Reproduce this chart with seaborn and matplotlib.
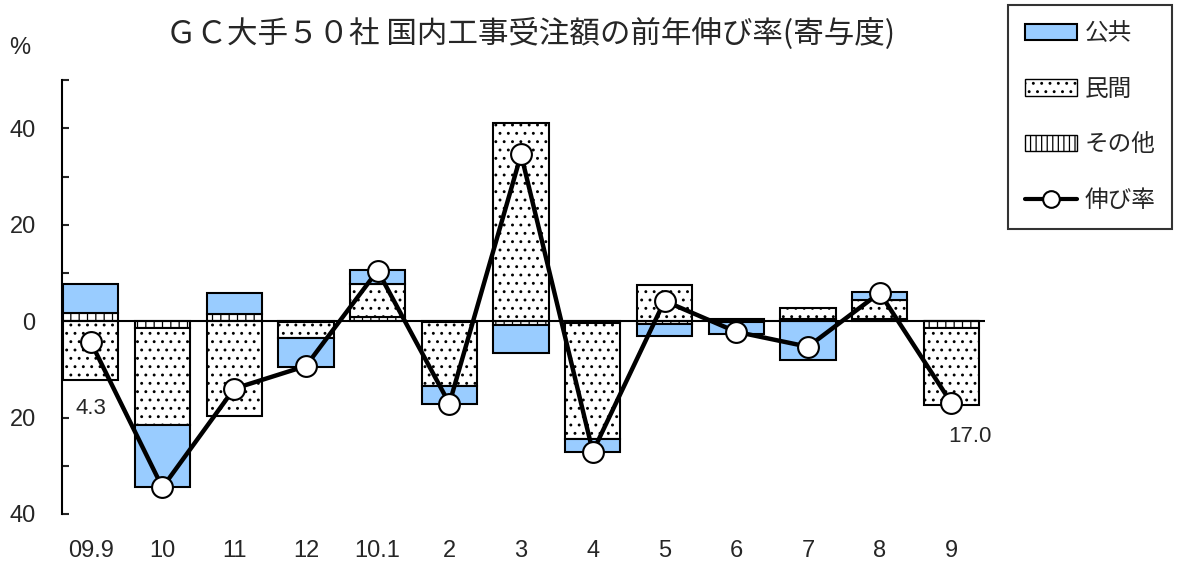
import matplotlib
matplotlib.use('Agg')
import matplotlib.pyplot as plt
from matplotlib.patches import Patch
from matplotlib.lines import Line2D
from matplotlib.ticker import MultipleLocator, FuncFormatter
import seaborn as sns
import pandas as pd
import numpy as np

# ── data (寄与度, %) ─────────────────────────────────────
months  = ['09.9', '10', '11', '12', '10.1', '2', '3', '4', '5', '6', '7', '8', '9']
public  = [6.1, -12.9, 4.5, -6.2, 2.8, -3.7, -5.8, -2.8, -2.6, -2.6, -8.0, 1.6, 0.1]
private = [-12.1, -20.1, -19.7, -3.3, 7.0, -13.2, 41.2, -24.0, 7.5, -0.1, 2.3, 4.0, -16.0]
other   = [1.7, -1.5, 1.4, -0.1, 0.8, -0.2, -0.7, -0.4, -0.5, 0.4, 0.5, 0.5, -1.4]
growth  = [-4.3, -34.5, -14.0, -9.3, 10.5, -17.1, 34.6, -27.1, 4.2, -2.2, -5.3, 5.9, -17.0]
note_idx  = [0, 12]
note_text = ['4.3', '17.0']

BLUE = '#99ccff'
JP = ['Noto Sans CJK JP', 'DejaVu Sans']
EN = ['Liberation Sans', 'DejaVu Sans']

sns.set_style('white')
plt.rcParams['font.family'] = EN
plt.rcParams['hatch.linewidth'] = 0.9

df = pd.DataFrame({'month': months, 'public': public, 'private': private,
                   'other': other, 'growth': growth})

fig = plt.figure(figsize=(11.77, 5.61), dpi=100)
ax = fig.add_axes([0.0527, 0.0838, 0.7843, 0.7732])

# stack order from zero outward: その他 -> 民間 -> 公共
layers = [('other', 'white', '||'), ('private', 'white', '..'), ('public', BLUE, None)]
pos_base = np.zeros(len(df))
neg_base = np.zeros(len(df))
for col, fc, hatch in layers:
    vals = df[col].to_numpy()
    bottom = np.where(vals >= 0, pos_base, neg_base)
    sns.barplot(data=df, x='month', y=col, bottom=bottom, color=fc, saturation=1,
                width=0.77, edgecolor='black', linewidth=1.5, hatch=hatch, ax=ax)
    pos_base = pos_base + np.clip(vals, 0, None)
    neg_base = neg_base + np.clip(vals, None, 0)

ax.axhline(0, color='black', linewidth=1.5, zorder=3)

sns.lineplot(x=np.arange(len(df)), y=df['growth'], sort=False, estimator=None,
             color='black', linewidth=3.2, marker='o', markersize=15,
             markerfacecolor='white', markeredgecolor='black', markeredgewidth=1.5,
             zorder=5, ax=ax)

# value notes under the first and last points
ax.text(note_idx[0], growth[note_idx[0]] - 13.8, note_text[0],
        ha='center', va='center', fontsize=16)
ax.text(note_idx[1] + 0.26, growth[note_idx[1]] - 7.0, note_text[1],
        ha='center', va='center', fontsize=16)

ax.set_xlim(-0.4, 12.47)
ax.set_ylim(-40, 50)
ax.yaxis.set_major_locator(MultipleLocator(10))
ax.yaxis.set_major_formatter(FuncFormatter(
    lambda v, _: f'{abs(int(round(v)))}' if int(round(v)) % 20 == 0 and abs(v) < 45 else ''))
ax.tick_params(axis='y', direction='in', length=5, width=1.5, pad=19,
               labelsize=17, left=True)
ax.tick_params(axis='x', length=0, pad=19, labelsize=17)
ax.set_xlabel('')
ax.set_ylabel('')
for side in ['top', 'right', 'bottom']:
    ax.spines[side].set_visible(False)
ax.spines['left'].set_linewidth(1.5)
ax.spines['left'].set_color('black')

ax.set_title('ＧＣ大手５０社 国内工事受注額の前年伸び率(寄与度)', fontsize=22,
             family=JP, pad=27, x=0.508)
fig.text(0.008, 0.914, '%', fontsize=17, va='center', ha='left')

handles = [
    Patch(facecolor=BLUE, edgecolor='black', linewidth=1.5),
    Patch(facecolor='white', edgecolor='black', linewidth=1.0, hatch='..'),
    Patch(facecolor='white', edgecolor='black', linewidth=1.0, hatch='|||'),
    Line2D([], [], color='black', linewidth=3, marker='o', markersize=12,
           markerfacecolor='white', markeredgecolor='black', markeredgewidth=1.5),
]
labels = ['公共', '民間', 'その他', '伸び率']
leg = fig.legend(handles, labels, loc='upper right', bbox_to_anchor=(0.996, 0.991),
                 prop={'family': JP, 'size': 17}, frameon=True, fancybox=False,
                 edgecolor='black', handlelength=2.2, handletextpad=0.3,
                 handleheight=0.7, labelspacing=1.38, borderpad=0.72, borderaxespad=0)
leg.get_frame().set_linewidth(1.5)

plt.savefig('out.png', dpi=100, facecolor='white')
